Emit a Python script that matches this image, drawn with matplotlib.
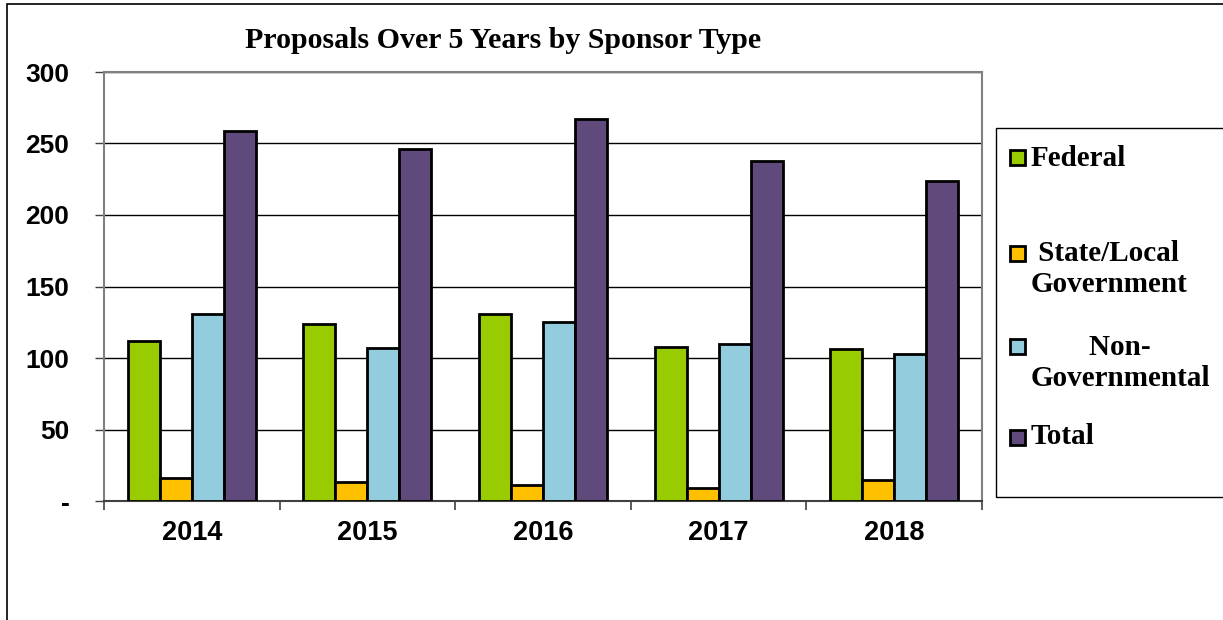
import numpy as np
import matplotlib
matplotlib.use("Agg")
import matplotlib.pyplot as plt
from matplotlib.patches import Rectangle

# data
years = ["2014", "2015", "2016", "2017", "2018"]
series_names = ["Federal", "State/Local Government", "Non-Governmental", "Total"]
federal = [112, 124, 131, 108, 106]
state_local = [16, 13, 11, 9, 15]
non_gov = [131, 107, 125, 110, 103]
total = [259, 246, 267, 238, 224]
colors = ["#99CC00", "#FFC000", "#93CDDD", "#604A7B"]
legend_labels = ["Federal", " State/Local\nGovernment", "        Non-\nGovernmental", "Total"]
y_ticks = [0, 50, 100, 150, 200, 250, 300]
y_tick_labels = ["-", "50", "100", "150", "200", "250", "300"]

W, H = 1223, 620
fig = plt.figure(figsize=(W / 100, H / 100), dpi=100)
ax = fig.add_axes([104 / W, 1 - 501 / H, 878 / W, 429 / H])

values = [federal, state_local, non_gov, total]
x = np.arange(len(years))
bw = 0.182
for i, vals in enumerate(values):
    ax.bar(x + (i - 1.5) * bw, vals, width=bw, color=colors[i],
           edgecolor="black", linewidth=2, zorder=3)

ax.set_xlim(-0.5, len(years) - 0.5)
ax.set_ylim(0, 300)
ax.set_yticks(y_ticks)
ax.set_yticklabels(y_tick_labels, fontfamily="Liberation Sans",
                   fontweight="bold", fontsize=19)
ax.yaxis.grid(True, color="black", linewidth=1, zorder=0)
ax.set_axisbelow(True)

ax.set_xticks(x)
ax.set_xticklabels(years, fontfamily="Liberation Sans", fontweight="bold", fontsize=19.5)
ax.set_xticks(np.arange(-0.5, len(years), 1.0), minor=True)
ax.tick_params(axis="x", which="major", length=0, pad=14)
ax.tick_params(axis="x", which="minor", length=6.5, width=1.2, color="#404040")
ax.tick_params(axis="y", length=6.5, width=1, color="#404040", pad=18.5)

for side in ["left", "right", "top"]:
    ax.spines[side].set_color("#808080")
    ax.spines[side].set_linewidth(1.5)
ax.spines["bottom"].set_color("#404040")
ax.spines["bottom"].set_linewidth(1.5)

fig.text(503 / W, 1 - 40 / H, "Proposals Over 5 Years by Sponsor Type",
         fontfamily="Liberation Serif", fontweight="bold", fontsize=21.5,
         ha="center", va="center")

# outer chart border (runs off the right and bottom of the image)
fig.add_artist(Rectangle((7 / W, -0.1), 2, 1 - 4 / H + 0.1, transform=fig.transFigure,
                         fill=False, edgecolor="black", linewidth=1.2))

# legend box
fig.add_artist(Rectangle((996 / W, 1 - 497 / H), 1, (497 - 128) / H,
                         transform=fig.transFigure, fill=False,
                         edgecolor="black", linewidth=1))
label_y = [158, 269, 363, 437]
marker_y = [158, 253, 346, 437]
for lab, col, ty, my in zip(legend_labels, colors, label_y, marker_y):
    fig.add_artist(Rectangle((1010 / W, 1 - (my + 7.5) / H), 15 / W, 15 / H,
                             transform=fig.transFigure, facecolor=col,
                             edgecolor="black", linewidth=2))
    fig.text(1031 / W, 1 - ty / H, lab, fontfamily="Liberation Serif",
             fontweight="bold", fontsize=21, ha="left", va="center",
             linespacing=1.22)

fig.savefig("out.png", dpi=100)
